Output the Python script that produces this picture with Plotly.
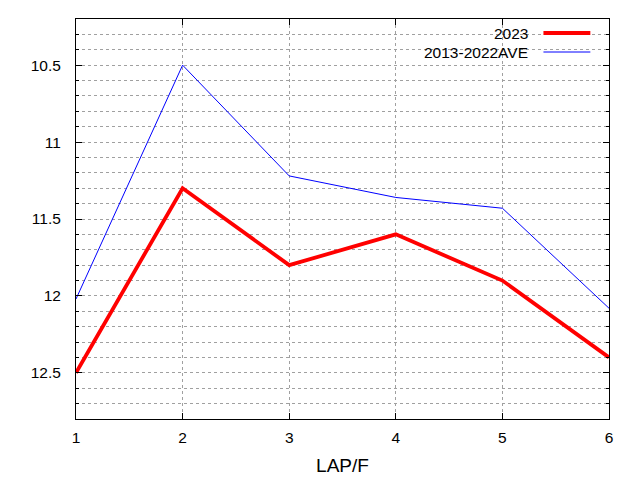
import plotly.graph_objects as go

laps = [1, 2, 3, 4, 5, 6]
lap_2023 = [12.5, 11.3, 11.8, 11.6, 11.9, 12.4]
lap_ave = [12.02, 10.5, 11.22, 11.36, 11.43, 12.08]
series_names = ["2023", "2013-2022AVE"]
series_colors = ["#ff0000", "#0000ff"]
series_widths = [3.8, 1]

font_family = "Liberation Sans, Arial, sans-serif"

fig = go.Figure()
for name, vals, col, w in zip(series_names, [lap_2023, lap_ave], series_colors, series_widths):
    fig.add_trace(go.Scatter(x=laps, y=vals, mode="lines", name=name,
                             line=dict(color=col, width=w), showlegend=False))

grid_style = dict(showgrid=True, gridcolor="#a0a0a0", gridwidth=1, griddash="3px,3px")

fig.update_xaxes(range=[1, 6], dtick=1, tick0=1, ticks="inside", ticklen=6,
                 tickcolor="black", showline=True, linecolor="black", linewidth=1,
                 mirror="allticks", zeroline=False, automargin=False, ticklabelstandoff=4,
                 title=dict(text="LAP/F", standoff=14),
                 **grid_style)
fig.update_yaxes(range=[12.8, 10.2], dtick=0.5, tick0=10.5, ticks="inside", ticklen=6,
                 tickcolor="black", showline=True, linecolor="black", linewidth=1,
                 mirror="allticks", zeroline=False, automargin=False, ticklabelstandoff=11,
                 minor=dict(dtick=0.1, tick0=10.2, ticks="inside", ticklen=3,
                            tickcolor="black", **grid_style),
                 **grid_style)

# legend drawn gnuplot-style: label on the left, line sample on the right
shapes = [dict(type="rect", xref="x domain", yref="y domain", x0=0.632, x1=0.978,
               y0=0.895, y1=0.998, fillcolor="white", line=dict(width=0), layer="below")]
annotations = []
key_y = [0.965, 0.9175]
for name, col, w, ky in zip(series_names, series_colors, series_widths, key_y):
    annotations.append(dict(text=name, xref="x domain", yref="y domain", x=0.851, y=ky,
                            xanchor="right", yanchor="middle", showarrow=False,
                            font=dict(size=15.5, color="black", family=font_family)))
    shapes.append(dict(type="line", xref="x domain", yref="y domain", x0=0.877, x1=0.965,
                       y0=ky, y1=ky, line=dict(color=col, width=w), layer="above"))

# page body adds an 8px offset, so the figure is sized to fit inside the window
fig.update_layout(
    width=632, height=472,
    margin=dict(l=67.5, r=30.5, t=11, b=61),
    paper_bgcolor="white", plot_bgcolor="white",
    font=dict(family=font_family, size=15.5, color="black"),
    shapes=shapes, annotations=annotations,
)

fig.write_html("out.html")
